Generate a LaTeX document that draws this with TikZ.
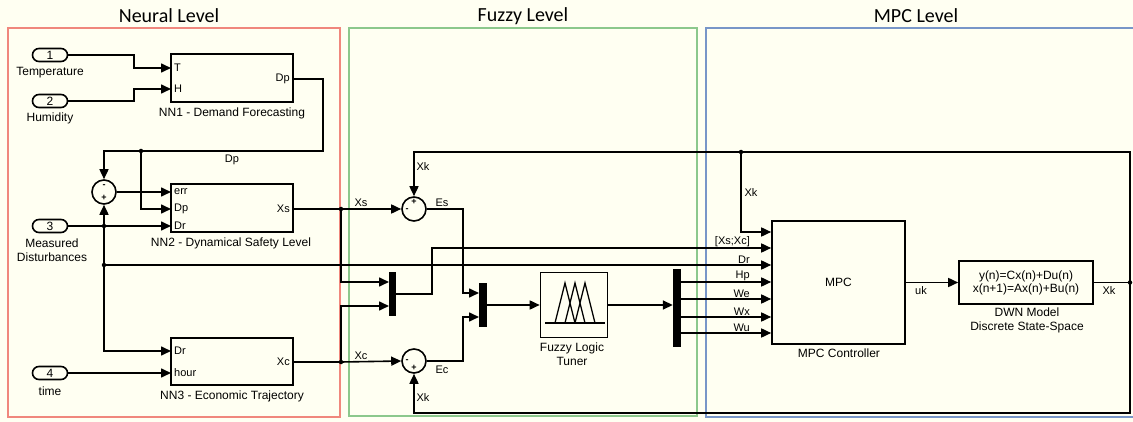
\documentclass[tikz,border=0pt]{standalone}
\usepackage{fontspec}
\setmainfont{Liberation Sans}
\newfontfamily\levelfont{Carlito}
\usetikzlibrary{arrows.meta}

\definecolor{paper}{RGB}{255,255,242}
\definecolor{neuralred}{RGB}{240,135,125}
\definecolor{fuzzygreen}{RGB}{140,200,140}
\definecolor{mpcblue}{RGB}{120,150,200}

\begin{document}
\begin{tikzpicture}[x=1pt, y=-1pt, font=\fontsize{12}{14}\selectfont]

    % Styles for blocks, wires and labels
    \tikzset{
      wire/.style={line width=1.6pt, -{Triangle[length=10pt, width=9pt]}},
      link/.style={line width=1.6pt},
      blk/.style={draw, line width=1.6pt, inner sep=0pt},
      inport/.style={blk, rounded corners=6.5pt, minimum width=35pt, minimum height=13pt},
      sumblk/.style={blk, circle, minimum size=24pt},
      bar/.style={fill=black, inner sep=0pt, minimum width=8pt},
      lbl/.style={inner sep=1pt, align=center},
      wlbl/.style={inner sep=1pt, font=\fontsize{11}{12}\selectfont},
      plbl/.style={inner sep=3pt, font=\fontsize{11}{12}\selectfont},
      sgn/.style={inner sep=0pt, font=\fontsize{9}{9}\selectfont\bfseries},
      dot/.style={circle, fill=black, inner sep=0pt, minimum size=4.5pt},
      lvlbox/.style={line width=1.1pt},
      lvltitle/.style={inner sep=1pt, font=\levelfont\fontsize{20}{22}\selectfont},
    }

    % --- Canvas and level frames ---
    \fill[paper] (0,0) rectangle (1133,422);
    \useasboundingbox (0,0) rectangle (1133,422);

    \draw[lvlbox, neuralred] (8,28) rectangle (340,417);
    \draw[lvlbox, fuzzygreen] (349,28) rectangle (697,416);
    \draw[lvlbox, mpcblue] (706,28) rectangle (1150,417);

    \node[lvltitle] (tneural) at (169,16) {Neural Level};
    \node[lvltitle] (tfuzzy) at (523,16) {Fuzzy Level};
    \node[lvltitle] (tmpc) at (916,16) {MPC Level};

    % --- Neural level: inports ---
    \node[inport] (in1) at (50,55) {1};
    \node[lbl] (in1lbl) at (50,73) {Temperature};
    \node[inport] (in2) at (50,101) {2};
    \node[lbl] (in2lbl) at (50,118) {Humidity};
    \node[inport] (in3) at (50,226) {3};
    \node[lbl] (in3lbl) at (52,250) {Measured\\Disturbances};
    \node[inport] (in4) at (50,373) {4};
    \node[lbl] (in4lbl) at (50,391) {time};

    % --- Neural level: networks ---
    \node[blk, minimum width=122pt, minimum height=48pt] (nn1) at (232,78) {};
    \node[lbl] (nn1lbl) at (232,113) {NN1 - Demand Forecasting};
    \coordinate (nn1T) at (171,68);
    \coordinate (nn1H) at (171,89);
    \coordinate (nn1Dp) at (293,79);
    \node[plbl, anchor=west] at (nn1T) {T};
    \node[plbl, anchor=west] at (nn1H) {H};
    \node[plbl, anchor=east] at (nn1Dp) {Dp};

    \node[blk, minimum width=122pt, minimum height=48pt] (nn2) at (232,208) {};
    \node[lbl] (nn2lbl) at (231,243) {NN2 - Dynamical Safety Level};
    \coordinate (nn2err) at (171,192);
    \coordinate (nn2Dp) at (171,209);
    \coordinate (nn2Dr) at (171,226);
    \coordinate (nn2Xs) at (293,209);
    \node[plbl, anchor=west] at (nn2err) {err};
    \node[plbl, anchor=west] at (nn2Dp) {Dp};
    \node[plbl, anchor=west] at (nn2Dr) {Dr};
    \node[plbl, anchor=east] at (nn2Xs) {Xs};

    \node[blk, minimum width=122pt, minimum height=47pt] (nn3) at (232,361.5) {};
    \node[lbl] (nn3lbl) at (232,396) {NN3 - Economic Trajectory};
    \coordinate (nn3Dr) at (171,351);
    \coordinate (nn3hour) at (171,373);
    \coordinate (nn3Xc) at (293,362);
    \node[plbl, anchor=west] at (nn3Dr) {Dr};
    \node[plbl, anchor=west] at (nn3hour) {hour};
    \node[plbl, anchor=east] at (nn3Xc) {Xc};

    \node[sumblk] (sum1) at (104,192) {};
    \node[sgn] at (104,186) {-};
    \node[sgn] at (104,198) {+};

    % --- Fuzzy level ---
    \node[sumblk] (sum2) at (414,209) {};
    \node[sgn] at (414,202) {+};
    \node[sgn] at (407,210) {-};
    \node[sumblk] (sum3) at (414,361) {};
    \node[sgn] at (407,361) {-};
    \node[sgn] at (414,368) {+};

    \node[bar, minimum width=7pt, minimum height=44pt] (mux1) at (392.5,294) {};
    \coordinate (mux1a) at (389,282);
    \coordinate (mux1b) at (389,306);
    \node[bar, minimum height=44pt] (mux2) at (483,305) {};
    \coordinate (mux2a) at (479,293);
    \coordinate (mux2b) at (479,317);

    \node[blk, minimum width=67pt, minimum height=65pt] (fuzzy) at (574,305) {};
    \draw[line width=1.3pt] (555,323) -- (565,283) -- (575,323)
      (565,323) -- (575,283) -- (585,323)
      (575,323) -- (585,283) -- (595,323);
    \draw[line width=1.8pt] (545,323) -- (605,323);
    \node[lbl] (fuzzylbl) at (572,354) {Fuzzy Logic\\Tuner};

    \node[bar, minimum height=78pt] (demux) at (677,308) {};

    % --- MPC level ---
    \node[blk, minimum width=133pt, minimum height=123pt] (mpc) at (838.5,282.5) {MPC};
    \node[lbl] (mpclbl) at (839,353) {MPC Controller};
    \node[blk, minimum width=134pt, minimum height=43pt, align=center,
      font=\fontsize{12}{13}\selectfont] (dwn) at (1026,282.5)
      {y(n)=Cx(n)+Du(n)\\x(n+1)=Ax(n)+Bu(n)};
    \node[lbl] (dwnlbl) at (1027,320) {DWN Model\\Discrete State-Space};

    % --- Junctions ---
    \coordinate (jdp) at (141,151);
    \coordinate (jdr) at (104,226);
    \coordinate (jdr2) at (104,265);
    \coordinate (jxs) at (341,209);
    \coordinate (jxc) at (341,362);
    \coordinate (jxkmpc) at (741,152);
    \coordinate (jxk) at (1130,282.5);
    \coordinate (kbot) at (1130,413);

    % --- Wires: neural level ---
    \draw[wire] (in1.east) -| (134,68) -- (nn1T);
    \draw[wire] (in2.east) -| (134,89) -- (nn1H);
    \draw[link] (nn1Dp) -| (323,151) -- (jdp);
    \draw[wire] (jdp) -| (sum1.north);
    \draw[wire] (jdp) |- (nn2Dp);
    \draw[wire] (sum1.east) -- (nn2err);
    \draw[wire] (in3.east) -- (nn2Dr);
    \draw[wire] (jdr) -- (sum1.south);
    \draw[wire] (jdr) |- (nn3Dr);
    \draw[wire] (in4.east) -- (nn3hour);
    \node[wlbl] at (232,160) {Dp};

    % --- Wires: fuzzy level ---
    \draw[link] (nn2Xs) -- (jxs);
    \draw[wire] (jxs) -- (sum2.west);
    \draw[wire] (jxs) |- (mux1a);
    \draw[link] (nn3Xc) -- (jxc);
    \draw[wire] (jxc) -- (sum3.west);
    \draw[wire] (jxc) |- (mux1b);
    \draw[wire] (sum2.east) -| (463,293) -- (mux2a);
    \draw[wire] (sum3.east) -| (463,317) -- (mux2b);
    \draw[wire] (mux2.east) -- (fuzzy.west);
    \draw[wire] (fuzzy.east) -- (fuzzy.east -| demux.west);
    \node[wlbl] at (361,203) {Xs};
    \node[wlbl] at (361,356) {Xc};
    \node[wlbl] at (442,203) {Es};
    \node[wlbl] at (442,370) {Ec};
    \node[wlbl] at (423,167) {Xk};
    \node[wlbl] at (423,398) {Xk};

    % --- Wires: into the MPC ---
    \draw[wire] (mux1.east) -| (432,248) -- (mpc.west |- 0,248);
    \draw[wire] (jdr2) -- (mpc.west |- jdr2);
    \node[wlbl, anchor=south east] at (751,248) {[Xs;Xc]};
    \node[wlbl, anchor=south east] at (751,265) {Dr};
    \foreach \y/\t in {282/Hp, 299/We, 317/Wx, 333/Wu} {
      \draw[wire] (demux.east |- 0,\y) -- (mpc.west |- 0,\y);
      \node[wlbl, anchor=south east] at (751,\y) {\t};
    }

    % --- Wires: plant and feedback ---
    \draw[wire] (mpc.east) -- (dwn.west);
    \draw[link] (dwn.east) -- (jxk) |- (jxkmpc);
    \draw[wire] (jxkmpc) -| (sum2.north);
    \draw[wire] (jxkmpc) |- (mpc.west |- 0,232);
    \draw[wire] (jxk) -- (kbot) -| (sum3.south);
    \node[wlbl] at (921,291) {uk};
    \node[wlbl] at (1109,291) {Xk};
    \node[wlbl] at (751,193) {Xk};

    % junction dots
    \foreach \j in {jdp, jdr, jdr2, jxs, jxc, jxkmpc, jxk}
      \node[dot] at (\j) {};
\end{tikzpicture}
\end{document}
